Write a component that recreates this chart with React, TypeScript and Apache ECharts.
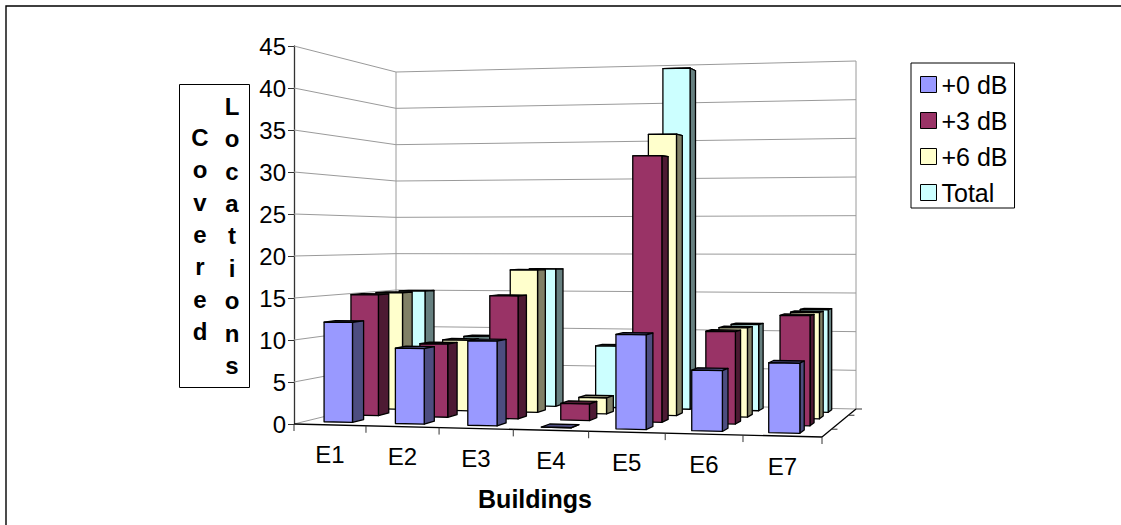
import React, { useEffect, useRef } from "react";
import * as echarts from "echarts";

// Column values per building, one list per signal boost level.
const buildings = ["E1", "E2", "E3", "E4", "E5", "E6", "E7"];
const plus0 = [12, 9, 10, 0, 11, 7, 8];
const plus3 = [15, 9, 15, 2, 32, 11, 13];
const plus6 = [15, 9, 18, 2, 35, 11, 13];
const total = [15, 9, 18, 8, 44, 11, 13];
const valueTicks = [0, 5, 10, 15, 20, 25, 30, 35, 40, 45];
const yTitleLeft = "C\no\nv\ne\nr\ne\nd";
const yTitleRight = "L\no\nc\na\nt\ni\no\nn\ns";

// Floor of the 3D box in page pixels: front-left, front-right, back-right, back-left.
const FL = [294, 424];
const FR = [822, 437];
const BR = [856, 409];
const BL = [396, 399];
// Pixel height of the full value range above each floor corner.
const HFL = 378;
const HFR = 400;
const HBR = 348;
const HBL = 327;

const dx1 = FR[0] - BR[0];
const dx2 = BL[0] - BR[0];
const sx = FL[0] - FR[0] + BR[0] - BL[0];
const dy1 = FR[1] - BR[1];
const dy2 = BL[1] - BR[1];
const sy = FL[1] - FR[1] + BR[1] - BL[1];
const den = dx1 * dy2 - dx2 * dy1;
const g = (sx * dy2 - dx2 * sy) / den;
const h = (dx1 * sy - sx * dy1) / den;
const a = FR[0] * (1 + g) - FL[0];
const b = BL[0] * (1 + h) - FL[0];
const c = FR[1] * (1 + g) - FL[1];
const d = BL[1] * (1 + h) - FL[1];

// Maps (across, depth, fraction of the value range) to page pixels.
function project(u: number, v: number, t: number): number[] {
  const w = 1 + g * u + h * v;
  const x = (a * u + b * v + FL[0]) / w;
  const y = (c * u + d * v + FL[1]) / w;
  const H =
    HFL * (1 - u) * (1 - v) + HFR * u * (1 - v) + HBR * u * v + HBL * (1 - u) * v;
  return [x, y - H * t];
}

const BAR_START = 0.27;
const BAR_END = 0.67;
const ROW_START = 0.38;
const ROW_END = 0.8;
const ROWS = 4;

function shade(fill: string, side: string, row: number) {
  return (params: any, api: any) => {
    const cs = params.coordSys;
    const cat = api.value(0);
    const [cx, cy] = api.coord([cat, api.value(1)]);
    const band = api.size([1, 0])[0];
    const left = cx - band / 2;
    const u0 = (left + BAR_START * band - cs.x) / cs.width;
    const u1 = (left + BAR_END * band - cs.x) / cs.width;
    const v0 = (row + ROW_START) / ROWS;
    const v1 = (row + ROW_END) / ROWS;
    const t = (cs.y + cs.height - cy) / cs.height;
    const style = (color: string) => ({
      fill: color,
      stroke: "#000",
      lineWidth: 1.3,
      lineJoin: "round",
    });
    const poly = (pts: number[][], color: string) => ({
      type: "polygon",
      shape: { points: pts },
      style: style(color),
    });
    return {
      type: "group",
      children: [
        poly(
          [project(u0, v0, t), project(u1, v0, t), project(u1, v1, t), project(u0, v1, t)],
          side
        ),
        poly(
          [project(u1, v0, 0), project(u1, v1, 0), project(u1, v1, t), project(u1, v0, t)],
          side
        ),
        poly(
          [project(u0, v0, 0), project(u1, v0, 0), project(u1, v0, t), project(u0, v0, t)],
          fill
        ),
      ],
    };
  };
}

function barSeries(
  name: string,
  values: number[],
  fill: string,
  side: string,
  row: number
) {
  return {
    type: "custom",
    name,
    silent: true,
    clip: false,
    z: 5,
    itemStyle: { color: fill },
    encode: { x: 0, y: 1 },
    data: values.map((val, i) => [i, val]),
    renderItem: shade(fill, side, row),
  };
}

const wallColor = "#9a9a9a";

function line(p: number[], q: number[], color: string, width = 1) {
  return {
    type: "line",
    shape: { x1: p[0], y1: p[1], x2: q[0], y2: q[1] },
    style: { stroke: color, lineWidth: width },
  };
}

export default function App() {
  const ref = useRef<HTMLDivElement>(null);

  useEffect(() => {
    const chart = echarts.init(ref.current!, undefined, { renderer: "svg" });
    const font = "Liberation Sans";
    chart.setOption({
      animation: false,
      backgroundColor: "#fff",
      textStyle: { fontFamily: font },
      grid: { left: FL[0], width: FR[0] - FL[0], top: 46, height: HFL },
      xAxis: {
        type: "category",
        data: buildings,
        axisLine: { show: false },
        axisTick: { show: false },
        axisLabel: { show: false },
        splitLine: { show: false },
      },
      yAxis: {
        type: "value",
        min: 0,
        max: 45,
        interval: 5,
        axisLine: { show: true, lineStyle: { color: "#333", width: 1.3 } },
        axisTick: { show: true, length: 6, lineStyle: { color: "#333", width: 1 } },
        axisLabel: { fontSize: 24, color: "#000", margin: 8, fontFamily: font },
        splitLine: { show: false },
      },
      legend: {
        orient: "vertical",
        left: 911,
        top: 63,
        icon: "rect",
        selectedMode: false,
        itemWidth: 16,
        itemHeight: 16,
        itemGap: 11,
        padding: [9, 7, 3, 9],
        borderColor: "#000",
        borderWidth: 1,
        backgroundColor: "#fff",
        itemStyle: { borderColor: "#000", borderWidth: 1 },
        textStyle: { fontSize: 25, color: "#000", fontFamily: font, lineHeight: 25 },
        data: ["+0 dB", "+3 dB", "+6 dB", "Total"],
      },
      graphic: [
        {
          // Outer frame: only its top and left edges fall inside the page.
          type: "polyline",
          shape: { points: [[6, 530], [6, 6], [1125, 6]] },
          style: { fill: "none", stroke: "#000", lineWidth: 1.4 },
          silent: true,
          z: -1,
        },
        {
          type: "rect",
          shape: { x: 179.5, y: 84.5, width: 70, height: 303 },
          style: { fill: "#fff", stroke: "#000", lineWidth: 1 },
          silent: true,
        },
        {
          type: "text",
          x: 200,
          y: 121,
          style: {
            text: yTitleLeft,
            fontSize: 24,
            fontWeight: "bold",
            fontFamily: font,
            lineHeight: 32.4,
            align: "center",
            fill: "#000",
          },
        },
        {
          type: "text",
          x: 232,
          y: 90,
          style: {
            text: yTitleRight,
            fontSize: 24,
            fontWeight: "bold",
            fontFamily: font,
            lineHeight: 32.4,
            align: "center",
            fill: "#000",
          },
        },
        {
          type: "text",
          x: 535,
          y: 499,
          style: {
            text: "Buildings",
            fontSize: 25,
            fontWeight: "bold",
            fontFamily: font,
            align: "center",
            verticalAlign: "middle",
            fill: "#000",
          },
        },
      ],
      series: [
        {
          // Side and back walls with their value gridlines.
          type: "custom",
          silent: true,
          clip: false,
          z: 1,
          encode: { x: 0, y: 1 },
          data: valueTicks.map((val) => [0, val]),
          renderItem: (params: any, api: any) => {
            const cs = params.coordSys;
            const [, cy] = api.coord([0, api.value(1)]);
            const t = (cs.y + cs.height - cy) / cs.height;
            return {
              type: "group",
              children: [
                line(project(0, 0, t), project(0, 1, t), wallColor),
                line(project(0, 1, t), project(1, 1, t), wallColor),
              ],
            };
          },
        },
        {
          // Upright box edges and the floor outline.
          type: "custom",
          silent: true,
          clip: false,
          z: 2,
          encode: { x: 0, y: 1 },
          data: [[0, 45]],
          renderItem: (params: any, api: any) => {
            const cs = params.coordSys;
            const [, cy] = api.coord([0, api.value(1)]);
            const t = (cs.y + cs.height - cy) / cs.height;
            const depthTicks = [0.25, 0.75, 1];
            return {
              type: "group",
              children: [
                line(project(0, 1, 0), project(0, 1, t), wallColor),
                line(project(1, 1, 0), project(1, 1, t), wallColor),
                line(project(0, 0, 0), project(1, 0, 0), "#000", 1.3),
                line(project(1, 0, 0), project(1, 1, 0), "#000", 1.3),
                ...depthTicks.map((v) => {
                  const p = project(1, v, 0);
                  return line(p, [p[0] + 6, p[1]], "#333");
                }),
              ],
            };
          },
        },
        {
          // Category ticks and labels along the front edge of the floor.
          type: "custom",
          silent: true,
          clip: false,
          z: 3,
          encode: { x: 0, y: 1 },
          data: buildings.map((_, i) => [i, 0]),
          renderItem: (params: any, api: any) => {
            const cs = params.coordSys;
            const i = api.value(0);
            const [cx] = api.coord([i, 0]);
            const band = api.size([1, 0])[0];
            const mid = project((cx - cs.x) / cs.width, 0, 0);
            const right = project((cx + band / 2 - cs.x) / cs.width, 0, 0);
            const left = project((cx - band / 2 - cs.x) / cs.width, 0, 0);
            const children: any[] = [
              line(right, [right[0], right[1] + 7], "#333"),
              {
                type: "text",
                x: mid[0],
                y: mid[1] + 30,
                style: {
                  text: buildings[i],
                  fontSize: 24,
                  fontFamily: font,
                  fill: "#000",
                  align: "center",
                  verticalAlign: "middle",
                },
              },
            ];
            if (i === 0) children.push(line(left, [left[0], left[1] + 7], "#333"));
            return { type: "group", children };
          },
        },
        barSeries("Total", total, "#CCFFFF", "#668080", 3),
        barSeries("+6 dB", plus6, "#FFFFCC", "#808066", 2),
        barSeries("+3 dB", plus3, "#993366", "#4D1A33", 1),
        barSeries("+0 dB", plus0, "#9999FF", "#4D4D80", 0),
      ],
    });
    return () => chart.dispose();
  }, []);

  return (
    <div
      ref={ref}
      style={{ position: "fixed", left: 0, top: 0, width: 1121, height: 525 }}
    />
  );
}
